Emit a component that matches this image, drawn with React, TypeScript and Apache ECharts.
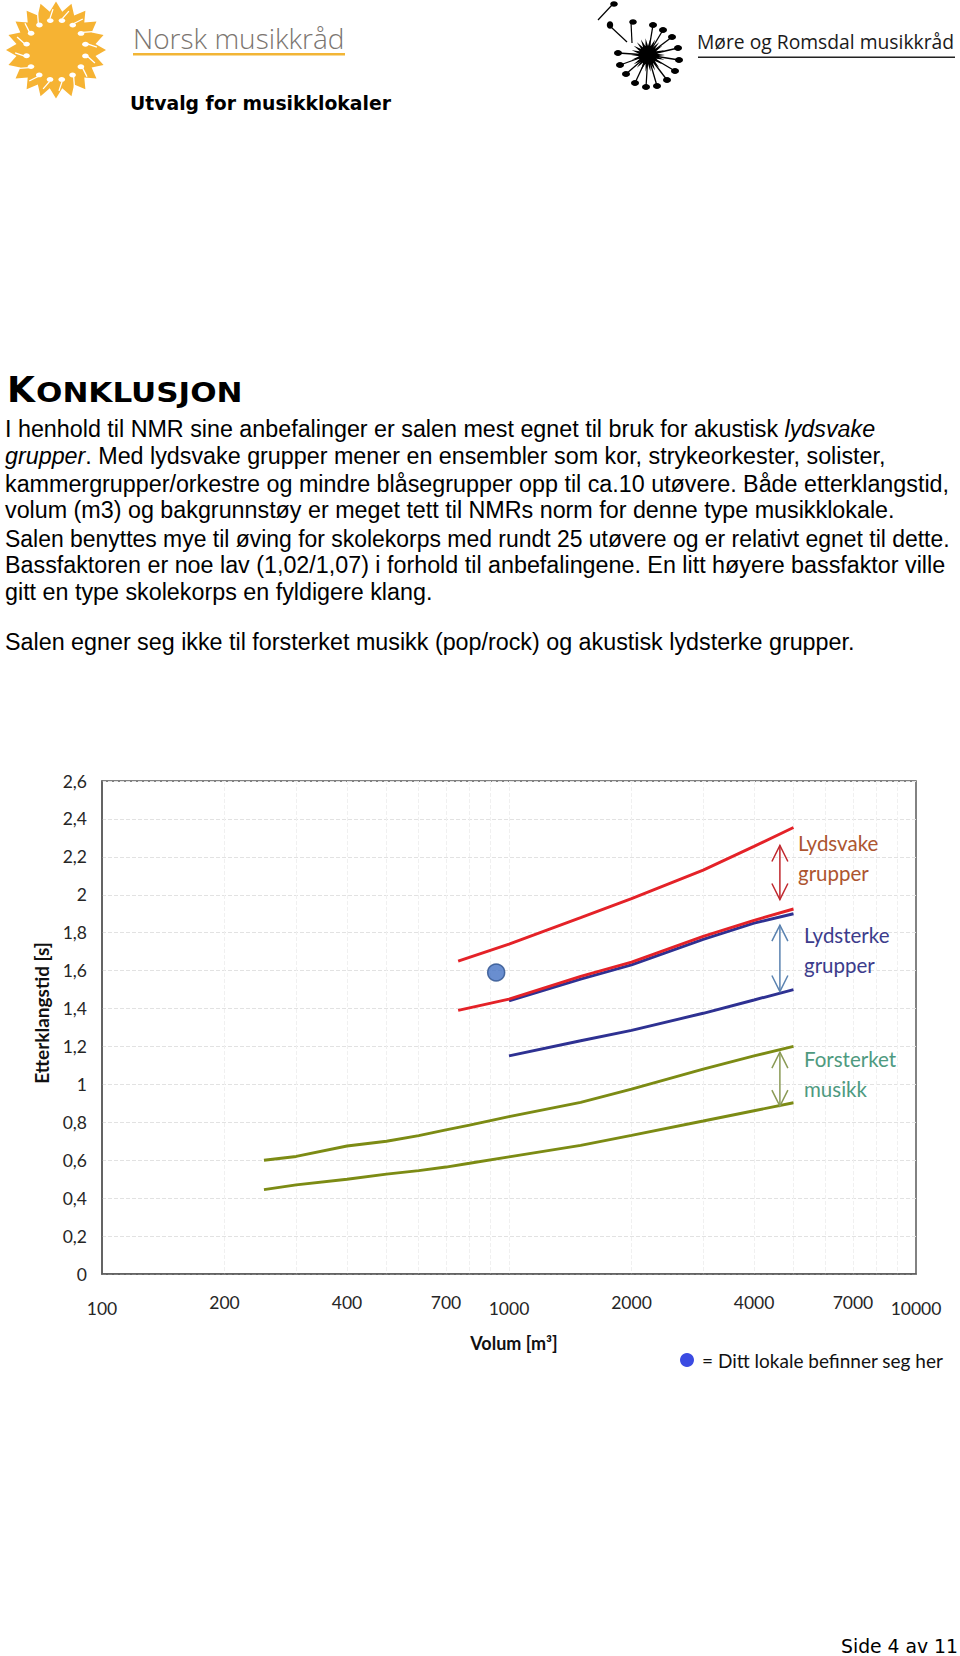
import React, { useEffect, useRef } from 'react';
import * as echarts from 'echarts';

// ---------- chart data ----------
const volumeLabelTicks = [100, 200, 400, 700, 1000, 2000, 4000, 7000, 10000];
const volumeGridTicks = [200, 300, 400, 500, 600, 700, 800, 900, 1000, 2000, 3000, 4000, 5000, 6000, 7000, 8000, 9000];
const decadeTicks = [100, 1000, 10000];

const lydsvakeUpper = [[750, 1.65], [1000, 1.74], [1500, 1.88], [2000, 1.98], [3000, 2.13], [4000, 2.255], [5000, 2.355]];
const lydsvakeLower = [[750, 1.39], [1000, 1.45], [1500, 1.57], [2000, 1.645], [3000, 1.78], [4000, 1.865], [5000, 1.925]];
const lydsterkeUpper = [[1000, 1.44], [1500, 1.555], [2000, 1.63], [3000, 1.765], [4000, 1.85], [5000, 1.9]];
const lydsterkeLower = [[1000, 1.15], [1500, 1.23], [2000, 1.285], [3000, 1.375], [4000, 1.445], [5000, 1.5]];
const forsterketUpper = [[250, 0.6], [300, 0.62], [400, 0.675], [500, 0.7], [600, 0.73], [700, 0.76], [800, 0.785], [1000, 0.83], [1500, 0.905], [2000, 0.975], [3000, 1.08], [4000, 1.15], [5000, 1.2]];
const forsterketLower = [[250, 0.445], [300, 0.47], [400, 0.5], [500, 0.527], [600, 0.545], [700, 0.564], [800, 0.584], [1000, 0.618], [1500, 0.678], [2000, 0.731], [3000, 0.807], [4000, 0.861], [5000, 0.903]];
const roomPoint = [[930, 1.59]];
const rangeArrows = [[4630, 2.26, 1.975], [4630, 1.84, 1.49], [4630, 1.17, 0.885]];

const groupLabels = [['Lydsvake', 'grupper'], ['Lydsterke', 'grupper'], ['Forsterket', 'musikk']];
const yAxisTitle = 'Etterklangstid [s]';
const xAxisTitle = 'Volum [m³]';
const legendText = '= Ditt lokale befinner seg her';

// ---------- page text ----------
const bodyLines: [string, boolean][][] = [
  [['I henhold til NMR sine anbefalinger er salen mest egnet til bruk for akustisk ', false], ['lydsvake', true]],
  [['grupper', true], ['. Med lydsvake grupper mener en ensembler som kor, strykeorkester, solister,', false]],
  [['kammergrupper/orkestre og mindre blåsegrupper opp til ca.10 utøvere. Både etterklangstid,', false]],
  [['volum (m3) og bakgrunnstøy er meget tett til NMRs norm for denne type musikklokale.', false]],
  [['Salen benyttes mye til øving for skolekorps med rundt 25 utøvere og er relativt egnet til dette.', false]],
  [['Bassfaktoren er noe lav (1,02/1,07) i forhold til anbefalingene. En litt høyere bassfaktor ville', false]],
  [['gitt en type skolekorps en fyldigere klang.', false]],
  [['Salen egner seg ikke til forsterket musikk (pop/rock) og akustisk lydsterke grupper.', false]],
];

// ---------- styling / layout ----------
const FONT_BODY = '"Liberation Sans", Arial, sans-serif';
const FONT_VERD = '"DejaVu Sans", Verdana, sans-serif';
const FONT_CAL = 'Lato, "Open Sans", sans-serif';
const FONT_LOGO = '"Open Sans", "Noto Sans", sans-serif';
const bodyBaselines = [436.7, 464, 491.7, 518.3, 546.7, 573.3, 600, 650.5];
const bodyScale = [1, 1, 1, 1, 0.985, 1, 1, 1];
const BODY_FS = 23.3;
const RED = '#e42228';
const BLUE = '#2e3192';
const OLIVE = '#7c8b14';
const arrowColors = ['#c0272d', '#5a82b0', '#8a9a55'];
const labelColors = ['#ad5530', '#3c3c8c', '#4e9a80'];
const labelPos = [[798, 843], [804, 935], [804, 1059]];

function sunGraphics(): any[] {
  const cx = 56, cy = 50;
  const pts: number[][] = [];
  const n = 20;
  for (let i = 0; i < n * 2; i++) {
    const a = (i * Math.PI) / n - Math.PI / 2;
    const r = i % 2 === 0 ? 50 : 40;
    pts.push([cx + r * Math.cos(a), cy + r * 0.97 * Math.sin(a)]);
  }
  const out: any[] = [
    { type: 'polygon', shape: { points: pts }, style: { fill: '#f6b333' } },
  ];
  const m = 16;
  for (let k = 0; k < m; k++) {
    const a = (k * 2 * Math.PI) / m + 0.2;
    const hx = cx + 30 * Math.cos(a), hy = cy + 30 * Math.sin(a);
    const sx = cx + 41 * Math.cos(a + 0.12), sy = cy + 41 * Math.sin(a + 0.12);
    out.push({ type: 'line', shape: { x1: hx + 2 * Math.cos(a), y1: hy + 2 * Math.sin(a), x2: sx, y2: sy }, style: { stroke: '#fff', lineWidth: 1.3 } });
    out.push({ type: 'ellipse', shape: { cx: hx, cy: hy, rx: 3.3, ry: 2.4 }, style: { fill: '#fff' } });
  }
  return out;
}

function dandelionGraphics(): any[] {
  const cx = 648, cy = 55;
  const out: any[] = [];
  const heads = [[653, 25], [663, 30], [672, 37], [678, 48], [679, 60], [675, 71], [667, 80], [657, 86], [646, 87], [635, 83], [626, 74], [620, 65], [618, 53]];
  heads.forEach(([x, y]) => {
    out.push({ type: 'line', shape: { x1: cx, y1: cy, x2: x, y2: y }, style: { stroke: '#000', lineWidth: 1.3 } });
  });
  const pts: number[][] = [];
  const n = 22;
  for (let i = 0; i < n * 2; i++) {
    const a = (i * Math.PI) / n;
    const r = i % 2 === 0 ? 17 : 9;
    pts.push([cx + r * Math.cos(a), cy + r * Math.sin(a)]);
  }
  out.push({ type: 'polygon', shape: { points: pts }, style: { fill: '#000' } });
  heads.forEach(([x, y]) => {
    out.push({ type: 'ellipse', shape: { cx: x, cy: y, rx: 4, ry: 3 }, style: { fill: '#000' } });
  });
  // flying notes
  out.push({ type: 'line', shape: { x1: 612, y1: 5, x2: 598, y2: 20 }, style: { stroke: '#000', lineWidth: 1.2 } });
  out.push({ type: 'ellipse', shape: { cx: 614, cy: 4, rx: 3.8, ry: 2.8 }, style: { fill: '#000' } });
  out.push({ type: 'line', shape: { x1: 611, y1: 27, x2: 627, y2: 42 }, style: { stroke: '#000', lineWidth: 1.2 } });
  out.push({ type: 'ellipse', shape: { cx: 610, cy: 25, rx: 3.2, ry: 3.8 }, style: { fill: '#000' } });
  out.push({ type: 'line', shape: { x1: 631, y1: 22, x2: 632, y2: 43 }, style: { stroke: '#000', lineWidth: 1.2 } });
  out.push({ type: 'ellipse', shape: { cx: 633, cy: 22, rx: 3.8, ry: 2.8 }, style: { fill: '#000' } });
  return out;
}

function richLine(parts: [string, boolean][]): string {
  return parts.map(([t, it]) => `{${it ? 'i' : 'n'}|${t}}`).join('');
}

export default function App() {
  const ref = useRef<HTMLDivElement>(null);
  useEffect(() => {
    document.body.style.margin = '0';
    document.body.style.overflow = 'hidden';
    const chart = echarts.init(ref.current!, undefined, { renderer: 'svg' });

    const graphics: any[] = [];
    graphics.push(...sunGraphics());
    graphics.push(...dandelionGraphics());
    graphics.push({ type: 'text', x: 133, y: 37.5, style: { text: 'Norsk musikkråd', fontFamily: FONT_LOGO, fontSize: 28, fontWeight: 300, fill: '#7b7570', verticalAlign: 'middle' } });
    graphics.push({ type: 'rect', shape: { x: 133, y: 53, width: 212, height: 2.5 }, style: { fill: '#f2b535' } });
    graphics.push({ type: 'text', x: 697, y: 41.5, style: { text: 'Møre og Romsdal musikkråd', fontFamily: FONT_LOGO, fontSize: 19.3, fill: '#1a1a1a', verticalAlign: 'middle' } });
    graphics.push({ type: 'rect', shape: { x: 698, y: 56.5, width: 257, height: 1.5 }, style: { fill: '#222' } });
    graphics.push({ type: 'text', x: 130, y: 103.5, style: { text: 'Utvalg for musikklokaler', fontFamily: FONT_VERD, fontSize: 18.8, fontWeight: 'bold', fill: '#000', verticalAlign: 'middle' } });
    // heading (small caps)
    graphics.push({ type: 'text', x: 7, y: 389.2, style: { text: 'K', fontFamily: FONT_VERD, fontSize: 36, fontWeight: 'bold', fill: '#000', verticalAlign: 'middle' } });
    graphics.push({ type: 'text', x: 36, y: 392.4, scaleX: 1.15, style: { text: 'ONKLUSJON', fontFamily: FONT_VERD, fontSize: 27, fontWeight: 'bold', fill: '#000', verticalAlign: 'middle' } });
    bodyLines.forEach((parts, i) => {
      graphics.push({
        type: 'text', x: 5, y: bodyBaselines[i] - 0.3465 * BODY_FS, scaleX: bodyScale[i],
        style: {
          text: richLine(parts), verticalAlign: 'middle', fill: '#000',
          fontFamily: FONT_BODY, fontSize: BODY_FS,
          rich: {
            n: { fontFamily: FONT_BODY, fontSize: BODY_FS, fill: '#000' },
            i: { fontFamily: FONT_BODY, fontSize: BODY_FS, fontStyle: 'italic', fill: '#000' },
          },
        },
      });
    });
    // chart annotations
    groupLabels.forEach((lines, i) => {
      lines.forEach((t, j) => {
        graphics.push({ type: 'text', z: 100, x: labelPos[i][0], y: labelPos[i][1] + j * 29.5, style: { text: t, fontFamily: FONT_CAL, fontSize: 20.5, fill: labelColors[i], verticalAlign: 'middle' } });
      });
    });
    graphics.push({ type: 'text', x: 41, y: 1013, rotation: Math.PI / 2, style: { text: yAxisTitle, fontFamily: FONT_CAL, fontSize: 19, fontWeight: 'bold', fill: '#111', align: 'center', verticalAlign: 'middle' } });
    graphics.push({ type: 'text', x: 514, y: 1343, style: { text: xAxisTitle, fontFamily: FONT_CAL, fontSize: 18, fontWeight: 'bold', fill: '#111', align: 'center', verticalAlign: 'middle' } });
    graphics.push({ type: 'circle', shape: { cx: 687, cy: 1360, r: 7 }, style: { fill: '#3b4be2' } });
    graphics.push({ type: 'text', x: 702, y: 1360, style: { text: legendText, fontFamily: FONT_CAL, fontSize: 19, fill: '#111', verticalAlign: 'middle' } });
    graphics.push({ type: 'text', x: 841, y: 1646.6, style: { text: 'Side 4 av 11', fontFamily: FONT_VERD, fontSize: 18.8, fill: '#000', verticalAlign: 'middle' } });

    const lineSeries = (data: number[][], color: string) => ({
      type: 'line', data, symbol: 'none', showSymbol: false, silent: true,
      lineStyle: { color, width: 2.9 }, itemStyle: { color }, z: 3,
    });

    chart.setOption({
      animation: false,
      textStyle: { fontFamily: FONT_CAL },
      grid: { left: 102, top: 781, width: 814, height: 493, show: true, borderColor: '#5a5a5a', borderWidth: 1.5, backgroundColor: 'transparent' },
      xAxis: {
        type: 'log', logBase: 10, min: 100, max: 10000,
        axisLine: { show: true, lineStyle: { color: '#5a5a5a', width: 1.5 } },
        axisTick: { show: false, customValues: volumeGridTicks },
        splitLine: { show: true, lineStyle: { color: '#f0f0f0', type: 'dashed', width: 1 } },
        minorTick: { show: false }, minorSplitLine: { show: false },
        axisLabel: {
          customValues: volumeLabelTicks, margin: 19, fontSize: 17.5, color: '#262626', fontFamily: FONT_CAL,
          formatter: (v: number) => (decadeTicks.indexOf(Math.round(v)) >= 0 ? `{d|${Math.round(v)}}` : `{n|${Math.round(v)}}`),
          rich: {
            d: { fontSize: 17.5, color: '#262626', fontFamily: FONT_CAL, padding: [6, 0, 0, 0] },
            n: { fontSize: 17.5, color: '#262626', fontFamily: FONT_CAL },
          },
        },
      },
      yAxis: {
        type: 'value', min: 0, max: 2.6, interval: 0.2,
        axisLine: { show: true, lineStyle: { color: '#5a5a5a', width: 1.5 } },
        axisTick: { show: false },
        splitLine: { show: true, lineStyle: { color: '#e2e2e2', type: 'dashed', width: 1 } },
        axisLabel: {
          margin: 15, fontSize: 17.5, color: '#262626', fontFamily: FONT_CAL,
          formatter: (v: number) => String(Math.round(v * 10) / 10).replace('.', ','),
        },
      },
      graphic: graphics,
      series: [
        lineSeries(forsterketUpper, OLIVE),
        lineSeries(forsterketLower, OLIVE),
        lineSeries(lydsterkeLower, BLUE),
        lineSeries(lydsterkeUpper, BLUE),
        lineSeries(lydsvakeLower, RED),
        lineSeries(lydsvakeUpper, RED),
        {
          type: 'scatter', data: roomPoint, symbolSize: 17, silent: true, z: 5,
          itemStyle: { color: '#4372c4', borderColor: '#2b4f8c', borderWidth: 1.5 },
        },
        {
          type: 'custom', data: rangeArrows, silent: true, z: 4,
          encode: { x: 0, y: [1, 2] },
          renderItem: (params: any, api: any) => {
            const x = api.value(0);
            const p1 = api.coord([x, api.value(1)]);
            const p2 = api.coord([x, api.value(2)]);
            const c = arrowColors[params.dataIndex];
            const w = 8, h = 16;
            const st = { stroke: c, lineWidth: 1.5, fill: 'none' };
            return {
              type: 'group',
              children: [
                { type: 'line', shape: { x1: p1[0], y1: p1[1], x2: p2[0], y2: p2[1] }, style: st },
                { type: 'polyline', shape: { points: [[p1[0] - w, p1[1] + h], [p1[0], p1[1]], [p1[0] + w, p1[1] + h]] }, style: st },
                { type: 'polyline', shape: { points: [[p2[0] - w, p2[1] - h], [p2[0], p2[1]], [p2[0] + w, p2[1] - h]] }, style: st },
              ],
            };
          },
        },
      ],
    });
    return () => chart.dispose();
  }, []);
  return <div ref={ref} style={{ position: 'absolute', left: 0, top: 0, width: 960, height: 1656, background: '#fff' }} />;
}
